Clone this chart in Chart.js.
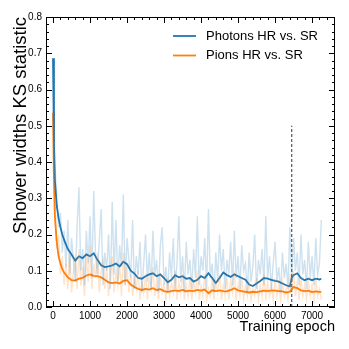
<!DOCTYPE html>
<html>
<head>
<meta charset="utf-8">
<script src="https://cdn.jsdelivr.net/npm/chart.js@4.4.1/dist/chart.umd.min.js"></script>
<style>
  html, body { margin: 0; padding: 0; background: #fff; }
  #wrap { width: 349px; height: 349px; }
</style>
</head>
<body>
<div id="wrap"><canvas id="ksChart" width="349" height="349"></canvas></div>
<script>
// Curvas KS de anchos de cascada frente a la época de entrenamiento

const RAW_STEP = 50; // épocas entre puntos de la curva sin suavizar

const photonsRaw = [
  0.686, 0.40, 0.30, 0.22, 0.26, 0.15, 0.21, 0.11, 0.24, 0.09,
  0.19, 0.13, 0.07, 0.22, 0.33, 0.10, 0.16, 0.06, 0.21, 0.12,
  0.25, 0.08, 0.32, 0.14, 0.09, 0.18, 0.27, 0.06, 0.15, 0.10,
  0.20, 0.05, 0.29, 0.09, 0.24, 0.07, 0.17, 0.11, 0.31, 0.06,
  0.19, 0.13, 0.08, 0.24, 0.05, 0.14, 0.09, 0.18, 0.04, 0.12,
  0.20, 0.07, 0.15, 0.05, 0.21, 0.09, 0.13, 0.04, 0.17, 0.22,
  0.06, 0.11, 0.04, 0.15, 0.08, 0.19, 0.05, 0.12, 0.25, 0.07,
  0.14, 0.04, 0.18, 0.09, 0.13, 0.05, 0.16, 0.08, 0.25, 0.06,
  0.14, 0.10, 0.19, 0.05, 0.27, 0.08, 0.12, 0.04, 0.15, 0.07,
  0.20, 0.10, 0.16, 0.05, 0.13, 0.09, 0.18, 0.06, 0.21, 0.08,
  0.14, 0.05, 0.17, 0.10, 0.12, 0.04, 0.15, 0.07, 0.11, 0.20,
  0.05, 0.13, 0.09, 0.16, 0.06, 0.25, 0.08, 0.14, 0.05, 0.12,
  0.18, 0.07, 0.11, 0.04, 0.15, 0.08, 0.12, 0.05, 0.22, 0.07,
  0.19, 0.10, 0.15, 0.06, 0.20, 0.09, 0.13, 0.05, 0.18, 0.08,
  0.14, 0.06, 0.19, 0.09, 0.12, 0.24
];

const pionsRaw = [
  0.536, 0.30, 0.16, 0.20, 0.09, 0.14, 0.06, 0.12, 0.05, 0.15,
  0.04, 0.10, 0.13, 0.05, 0.16, 0.06, 0.11, 0.03, 0.14, 0.07,
  0.17, 0.05, 0.12, 0.08, 0.15, 0.04, 0.10, 0.13, 0.05, 0.11,
  0.03, 0.09, 0.14, 0.04, 0.10, 0.06, 0.12, 0.03, 0.15, 0.06,
  0.11, 0.04, 0.09, 0.03, 0.08, 0.05, 0.10, 0.02, 0.07, 0.04,
  0.09, 0.02, 0.08, 0.05, 0.11, 0.03, 0.07, 0.02, 0.09, 0.04,
  0.06, 0.02, 0.08, 0.03, 0.07, 0.04, 0.10, 0.02, 0.07, 0.04,
  0.09, 0.02, 0.06, 0.03, 0.08, 0.02, 0.07, 0.04, 0.10, 0.02,
  0.06, 0.03, 0.09, 0.02, 0.05, 0.03, 0.08, 0.02, 0.07, 0.04,
  0.09, 0.02, 0.06, 0.03, 0.08, 0.02, 0.07, 0.04, 0.10, 0.02,
  0.06, 0.03, 0.08, 0.02, 0.06, 0.03, 0.07, 0.02, 0.05, 0.03,
  0.08, 0.02, 0.06, 0.03, 0.09, 0.02, 0.07, 0.03, 0.06, 0.02,
  0.08, 0.03, 0.06, 0.02, 0.07, 0.03, 0.05, 0.02, 0.09, 0.04,
  0.10, 0.03, 0.07, 0.02, 0.08, 0.03, 0.06, 0.02, 0.07, 0.03,
  0.06, 0.02, 0.08, 0.03, 0.05, 0.02
];

// curvas suavizadas
const smoothEpochs = [
  0, 25, 50, 100, 150, 200, 250, 300, 400, 500, 600, 700, 800, 900, 1000,
  1100, 1200, 1300, 1400, 1500, 1600, 1700, 1800, 1900, 2000, 2100, 2200,
  2300, 2400, 2500, 2600, 2700, 2800, 2900, 3000, 3100, 3200, 3300, 3400,
  3500, 3600, 3700, 3800, 3900, 4000, 4100, 4200, 4300, 4400, 4500, 4600,
  4700, 4800, 4900, 5000, 5100, 5200, 5300, 5400, 5500, 5600, 5700, 5800,
  5900, 6000, 6100, 6200, 6300, 6400, 6450, 6500, 6600, 6700, 6800, 6900,
  7000, 7100, 7200, 7250
];

const photonsSmooth = [
  0.686, 0.45, 0.35, 0.28, 0.245, 0.22, 0.20, 0.185, 0.16, 0.145, 0.128, 0.14, 0.135, 0.145, 0.14,
  0.148, 0.13, 0.115, 0.11, 0.112, 0.115, 0.12, 0.112, 0.125, 0.118, 0.10, 0.092,
  0.08, 0.078, 0.085, 0.09, 0.093, 0.085, 0.09, 0.08, 0.068, 0.075, 0.088, 0.082,
  0.085, 0.078, 0.08, 0.07, 0.075, 0.085, 0.08, 0.093, 0.08, 0.066, 0.08, 0.095,
  0.088, 0.083, 0.09, 0.085, 0.08, 0.075, 0.062, 0.058, 0.065, 0.072, 0.08, 0.078,
  0.075, 0.072, 0.07, 0.065, 0.06, 0.057, 0.08, 0.088, 0.093, 0.08, 0.074, 0.078,
  0.074, 0.078, 0.076, 0.078
];

const pionsSmooth = [
  0.536, 0.35, 0.25, 0.18, 0.14, 0.12, 0.105, 0.095, 0.082, 0.074, 0.073, 0.078, 0.08, 0.087, 0.09,
  0.086, 0.085, 0.082, 0.075, 0.068, 0.066, 0.068, 0.065, 0.072, 0.074, 0.062, 0.055,
  0.05, 0.047, 0.05, 0.048, 0.052, 0.047, 0.049, 0.044, 0.042, 0.044, 0.046, 0.044,
  0.047, 0.043, 0.045, 0.044, 0.047, 0.045, 0.048, 0.038, 0.046, 0.044, 0.046, 0.044,
  0.043, 0.047, 0.052, 0.046, 0.044, 0.042, 0.04, 0.042, 0.041, 0.043, 0.045, 0.044,
  0.046, 0.045, 0.044, 0.043, 0.04, 0.042, 0.05, 0.055, 0.052, 0.046, 0.044, 0.045,
  0.041, 0.043, 0.042, 0.042
];

const seriesLabels = ['Photons HR vs. SR', 'Pions HR vs. SR'];
const xTicks = [0, 1000, 2000, 3000, 4000, 5000, 6000, 7000];
const yTicks = [0, 0.1, 0.2, 0.3, 0.4, 0.5, 0.6, 0.7, 0.8];
const selectedEpoch = 6450;
const selectedLine = [0, 0.5];

const BLUE = '#1f77b4';
const ORANGE = '#ff7f0e';
const FONT = '"Liberation Sans", Arial, sans-serif';

function toPoints(xs, ys) {
    return ys.map((y, i) => ({ x: xs[i], y: y }));
}
const rawEpochs = photonsRaw.map((_, i) => i * RAW_STEP);

// marco, marcas interiores y leyenda al estilo mplhep
const frameTicks = {
    id: 'frameTicks',
    afterDraw(chart) {
        const { ctx, chartArea: a, scales: { x, y } } = chart;
        ctx.save();
        ctx.strokeStyle = '#000';
        ctx.lineWidth = 1;
        ctx.strokeRect(a.left + 0.5, a.top + 0.5, a.right - a.left - 1, a.bottom - a.top - 1);

        ctx.beginPath();
        for (let v = 0; v <= 7600; v += 200) {
            const px = Math.round(x.getPixelForValue(v)) + 0.5;
            const len = v % 1000 === 0 ? 6 : 3;
            ctx.moveTo(px, a.bottom); ctx.lineTo(px, a.bottom - len);
            ctx.moveTo(px, a.top); ctx.lineTo(px, a.top + len);
        }
        for (let k = 0; k <= 40; k++) {
            const py = Math.round(y.getPixelForValue(k * 0.02)) + 0.5;
            const len = k % 5 === 0 ? 6 : 3;
            ctx.moveTo(a.left, py); ctx.lineTo(a.left + len, py);
            ctx.moveTo(a.right, py); ctx.lineTo(a.right - len, py);
        }
        ctx.stroke();

        // leyenda
        const colors = [BLUE, ORANGE];
        ctx.font = '13px ' + FONT;
        ctx.textBaseline = 'middle';
        ctx.fillStyle = '#000';
        seriesLabels.forEach((lab, i) => {
            const ly = 36 + i * 19.5;
            ctx.strokeStyle = colors[i];
            ctx.lineWidth = 1.8;
            ctx.beginPath();
            ctx.moveTo(173, ly); ctx.lineTo(196, ly);
            ctx.stroke();
            ctx.fillText(lab, 206, ly);
        });
        ctx.restore();
    }
};

new Chart(document.getElementById('ksChart'), {
    type: 'line',
    data: {
        datasets: [
            {
                label: 'photons raw',
                data: toPoints(rawEpochs, photonsRaw),
                borderColor: 'rgba(31, 119, 180, 0.22)',
                borderWidth: 1.4,
                pointRadius: 0
            },
            {
                label: 'pions raw',
                data: toPoints(rawEpochs, pionsRaw),
                borderColor: 'rgba(255, 127, 14, 0.22)',
                borderWidth: 1.4,
                pointRadius: 0
            },
            {
                label: seriesLabels[0],
                data: toPoints(smoothEpochs, photonsSmooth),
                borderColor: BLUE,
                borderWidth: 1.8,
                pointRadius: 0
            },
            {
                label: seriesLabels[1],
                data: toPoints(smoothEpochs, pionsSmooth),
                borderColor: ORANGE,
                borderWidth: 1.8,
                pointRadius: 0
            },
            {
                label: 'selected',
                data: selectedLine.map(v => ({ x: selectedEpoch, y: v })),
                borderColor: '#555',
                borderWidth: 1.2,
                borderDash: [3, 2],
                pointRadius: 0
            }
        ]
    },
    options: {
        responsive: false,
        animation: false,
        events: [],
        layout: { padding: { left: 0, right: 14, top: 17, bottom: 0 } },
        plugins: { legend: { display: false }, tooltip: { enabled: false } },
        scales: {
            x: {
                type: 'linear',
                min: -190,
                max: 7620,
                afterBuildTicks: s => { s.ticks = xTicks.map(v => ({ value: v })); },
                afterFit: s => { s.height = 42; },
                grid: { display: false, drawTicks: false },
                border: { display: false },
                ticks: {
                    color: '#000',
                    padding: 3,
                    maxRotation: 0,
                    font: { family: FONT, size: 10 },
                    callback: v => String(v)
                },
                title: {
                    display: true,
                    text: 'Training epoch',
                    align: 'end',
                    color: '#000',
                    padding: { bottom: 13 },
                    font: { family: FONT, size: 14.5 }
                }
            },
            y: {
                min: 0,
                max: 0.8,
                afterBuildTicks: s => { s.ticks = yTicks.map(v => ({ value: v })); },
                afterFit: s => { s.width = 46; },
                grid: { display: false, drawTicks: false },
                border: { display: false },
                ticks: {
                    color: '#000',
                    padding: 4,
                    font: { family: FONT, size: 10 },
                    callback: v => v.toFixed(1)
                },
                title: {
                    display: true,
                    text: 'Shower widths KS statistic',
                    align: 'end',
                    color: '#000',
                    padding: { top: 10 },
                    font: { family: FONT, size: 18.5 }
                }
            }
        }
    },
    plugins: [frameTicks]
});
</script>
</body>
</html>
